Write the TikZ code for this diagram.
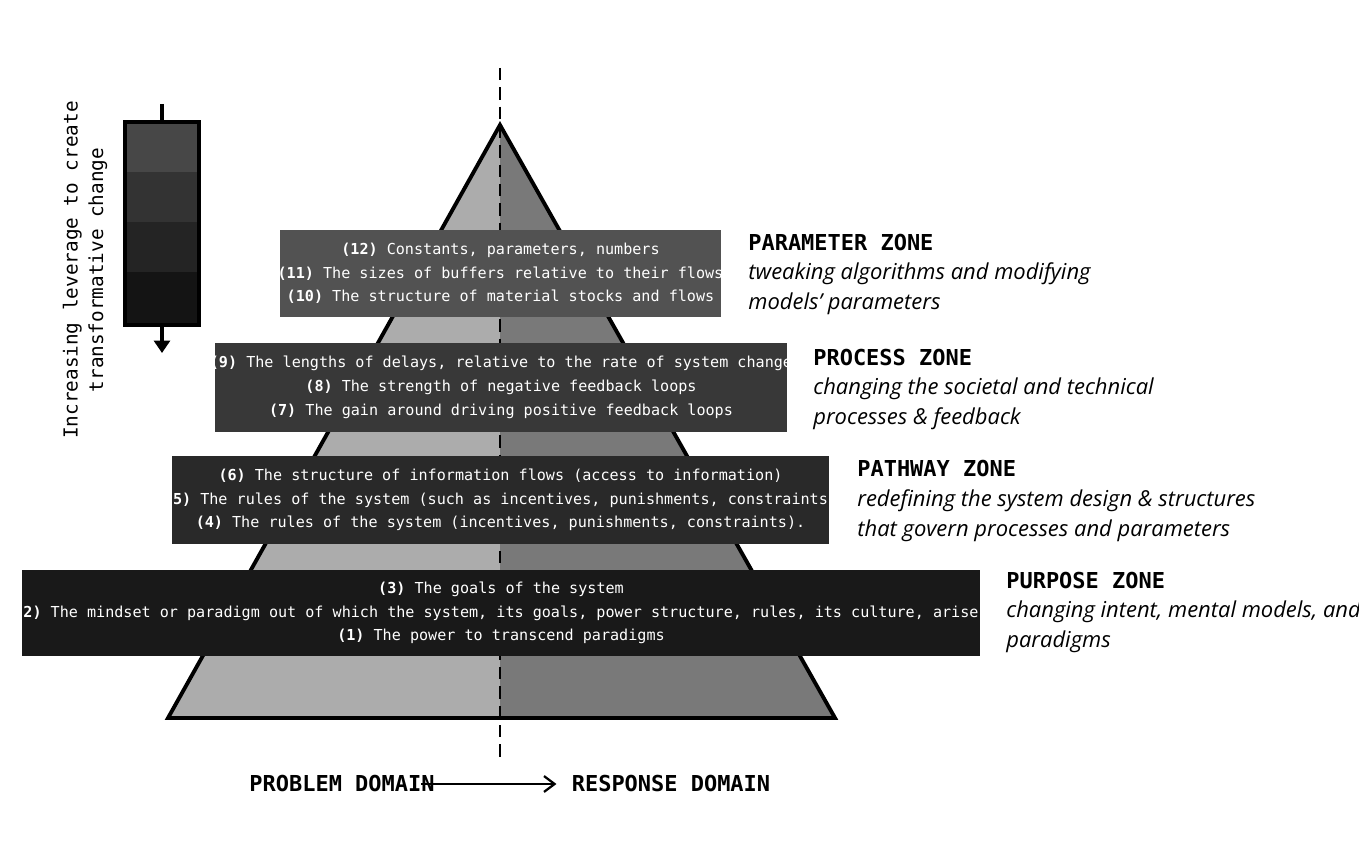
\documentclass[tikz,border=0pt]{standalone}
\usepackage{fontspec}
\setmonofont{DejaVu Sans Mono}
\setsansfont{Open Sans}
\usetikzlibrary{arrows.meta}
\begin{document}
\begin{tikzpicture}[x=0.02cm,y=-0.02cm,
  lev/.style={draw=none,text=white,align=center,font=\ttfamily\fontsize{8.6}{13.5}\selectfont,inner sep=0pt},
  zt/.style={anchor=north west,font=\ttfamily\bfseries\fontsize{12.5}{15}\selectfont,inner sep=0pt},
  zd/.style={anchor=north west,align=left,font=\sffamily\itshape\fontsize{12.5}{17.2}\selectfont,inner sep=0pt},
  dom/.style={font=\ttfamily\bfseries\fontsize{12.5}{15}\selectfont,inner sep=0pt}]
\useasboundingbox (0,0) rectangle (1359,844);
% pyramid
\coordinate (apex) at (500,125);
\coordinate (bl) at (168,718);
\coordinate (br) at (835,718);
\coordinate (bm) at (500,718);
\fill[gray!65] (apex) -- (bl) -- (bm) -- cycle;
\fill[gray!95!black] (apex) -- (bm) -- (br) -- cycle;
\draw[line width=2.2pt,line join=miter] (apex) -- (bl) -- (br) -- cycle;
\coordinate (dt) at (500,68);
\coordinate (db) at (500,760);
\draw[line width=1.6pt,dash pattern=on 7pt off 4pt] (dt) -- (db);
% boxes
\fill[black!68] (280,230) rectangle (721,317);
\fill[black!78] (215,343) rectangle (787,432);
\fill[black!84] (172,456) rectangle (829,544);
\fill[black!90] (22,570) rectangle (980,656);
\node[lev] (b1) at (500.5,273.5) {\textbf{(12)} Constants, parameters, numbers\\\textbf{(11)} The sizes of buffers relative to their flows\\\textbf{(10)} The structure of material stocks and flows};
\node[lev] (b2) at (501,387.5) {\textbf{(9)} The lengths of delays, relative to the rate of system change\\\textbf{(8)} The strength of negative feedback loops\\\textbf{(7)} The gain around driving positive feedback loops};
\node[lev] (b3) at (500.5,500) {\textbf{(6)} The structure of information flows (access to information)\\\textbf{(5)} The rules of the system (such as incentives, punishments, constraints)\\\textbf{(4)} The rules of the system (incentives, punishments, constraints).};
\node[lev] (b4) at (501,613) {\textbf{(3)} The goals of the system\\\textbf{(2)} The mindset or paradigm out of which the system, its goals, power structure, rules, its culture, arises\\\textbf{(1)} The power to transcend paradigms};
% zone labels
\node[zt] (z1) at (748,234) {PARAMETER ZONE};
\node[zd] (d1) at (748,262) {tweaking algorithms and modifying\\models' parameters};
\node[zt] (z2) at (813,349) {PROCESS ZONE};
\node[zd] (d2) at (813,377) {changing the societal and technical\\processes \& feedback};
\node[zt] (z3) at (857,460) {PATHWAY ZONE};
\node[zd] (d3) at (857,489) {redefining the system design \& structures\\that govern processes and parameters};
\node[zt] (z4) at (1006,572) {PURPOSE ZONE};
\node[zd] (d4) at (1006,600) {changing intent, mental models, and\\paradigms};
% legend bar
\fill[black!72] (125,122) rectangle (199,172);
\fill[black!80] (125,172) rectangle (199,222);
\fill[black!86] (125,222) rectangle (199,272);
\fill[black!92] (125,272) rectangle (199,325);
\draw[line width=2.2pt] (125,122) rectangle (199,325);
\coordinate (lt) at (162,104);
\coordinate (ltb) at (162,122);
\coordinate (lb) at (162,325);
\coordinate (la) at (162,353);
\draw[line width=2pt] (lt) -- (ltb);
\draw[line width=2pt,-{Triangle[length=7pt,width=9pt]}] (lb) -- (la);
\node[rotate=90,align=center,font=\ttfamily\fontsize{11}{14.5}\selectfont,inner sep=0pt] (lt2) at (85,270) {Increasing leverage to create\\transformative change};
% domains
\node[dom] (pd) at (342,784) {PROBLEM DOMAIN};
\node[dom] (rd) at (671,784) {RESPONSE DOMAIN};
\draw[line width=1.3pt,-{Straight Barb[length=6pt,width=9pt]}] ([xshift=-0.3cm]pd.east) ++(0.9,0) -- ([xshift=-0.3cm]rd.west);
\end{tikzpicture}
\end{document}
